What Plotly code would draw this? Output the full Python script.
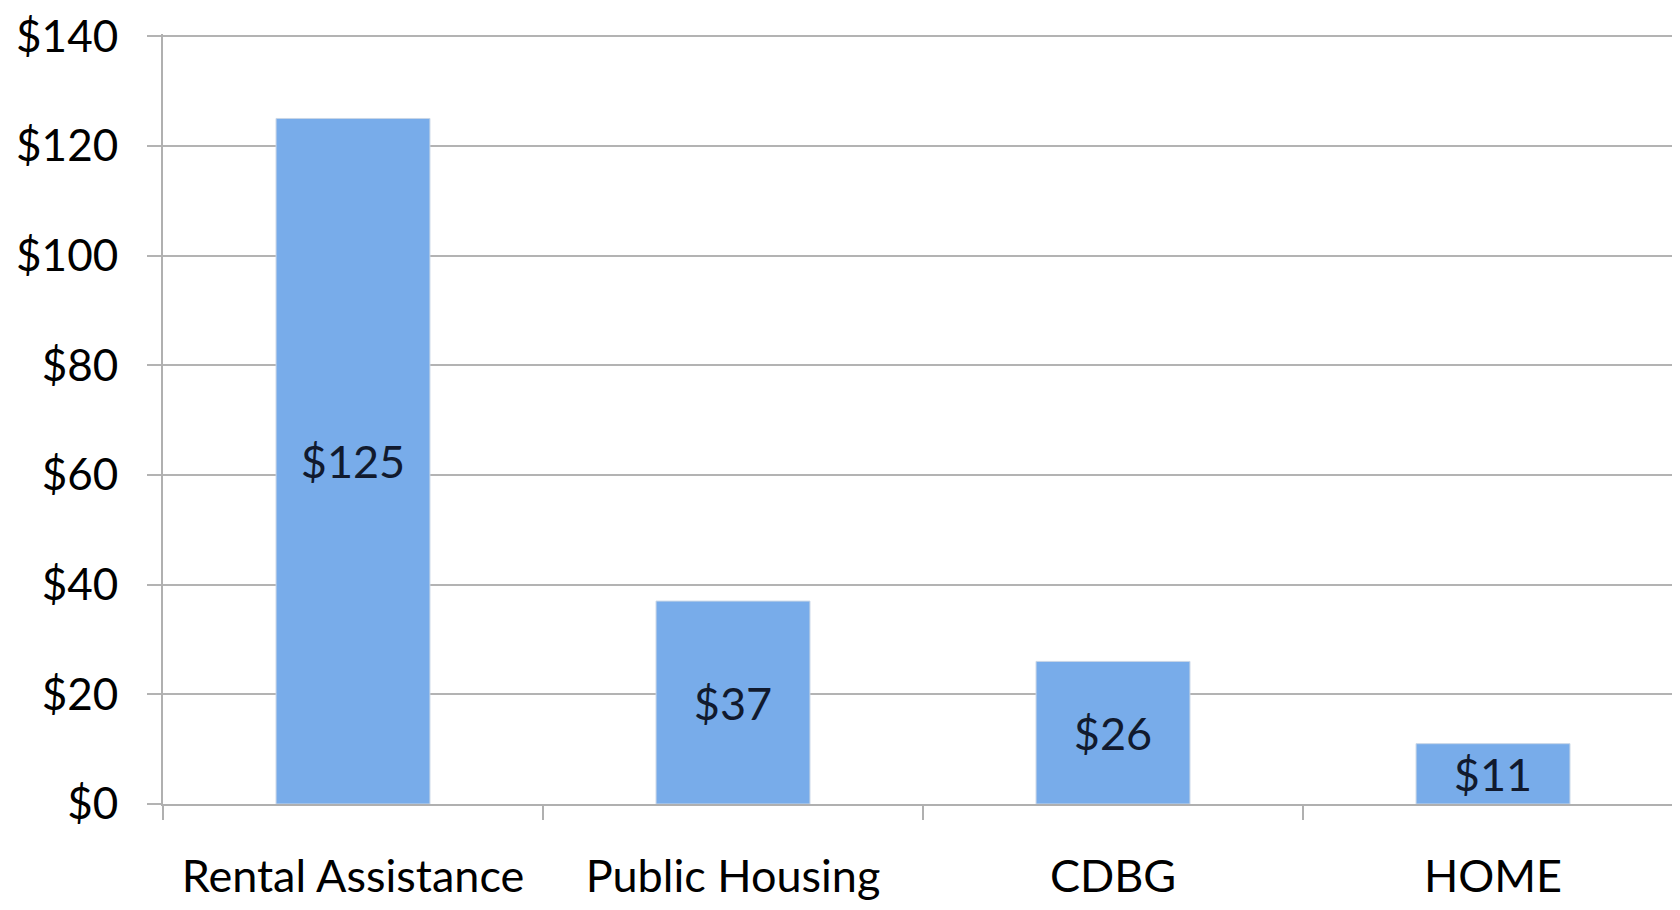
import plotly.graph_objects as go

categories = ["Rental Assistance", "Public Housing", "CDBG", "HOME"]
values = [125, 37, 26, 11]
value_labels = ["$125", "$37", "$26", "$11"]
y_tickvals = [0, 20, 40, 60, 80, 100, 120, 140]
y_ticktext = ["$0", "$20", "$40", "$60", "$80", "$100", "$120", "$140"]

FONT = "Lato"

fig = go.Figure()
fig.add_trace(go.Bar(
    x=categories,
    y=values,
    text=value_labels,
    textposition="inside",
    insidetextanchor="middle",
    textfont=dict(family=FONT, size=45, color="#111a2e"),
    marker=dict(color="#78ACEA", line=dict(color="#c8d6e6", width=1)),
    width=0.405,
    cliponaxis=False,
))

fig.update_layout(
    width=1664, height=894,
    margin=dict(l=155, r=0, t=26, b=98, autoexpand=False),
    paper_bgcolor="white", plot_bgcolor="white",
    showlegend=False,
    font=dict(family=FONT, color="black"),
    uniformtext=dict(minsize=30, mode="show"),
)
fig.update_xaxes(
    automargin=False,
    range=[-0.5, 3.471],
    showgrid=False,
    showline=True, linecolor="#b0b0b0", linewidth=2,
    ticks="outside", ticklen=14, tickcolor="#b0b0b0", tickwidth=2,
    tickson="boundaries",
    tickfont=dict(family=FONT, size=45, color="black"),
    ticklabelstandoff=32,
    ticklabeloverflow="allow",
)
fig.update_yaxes(
    automargin=False,
    range=[0, 140.4],
    tickvals=y_tickvals, ticktext=y_ticktext,
    showgrid=True, gridcolor="#b3b3b3", gridwidth=2,
    showline=True, linecolor="#b0b0b0", linewidth=2,
    ticks="outside", ticklen=14, tickcolor="#b3b3b3", tickwidth=2,
    tickfont=dict(family=FONT, size=44, color="black"),
    ticklabelstandoff=20,
    ticklabeloverflow="allow",
    zeroline=False,
)

fig.write_html("out.html")
